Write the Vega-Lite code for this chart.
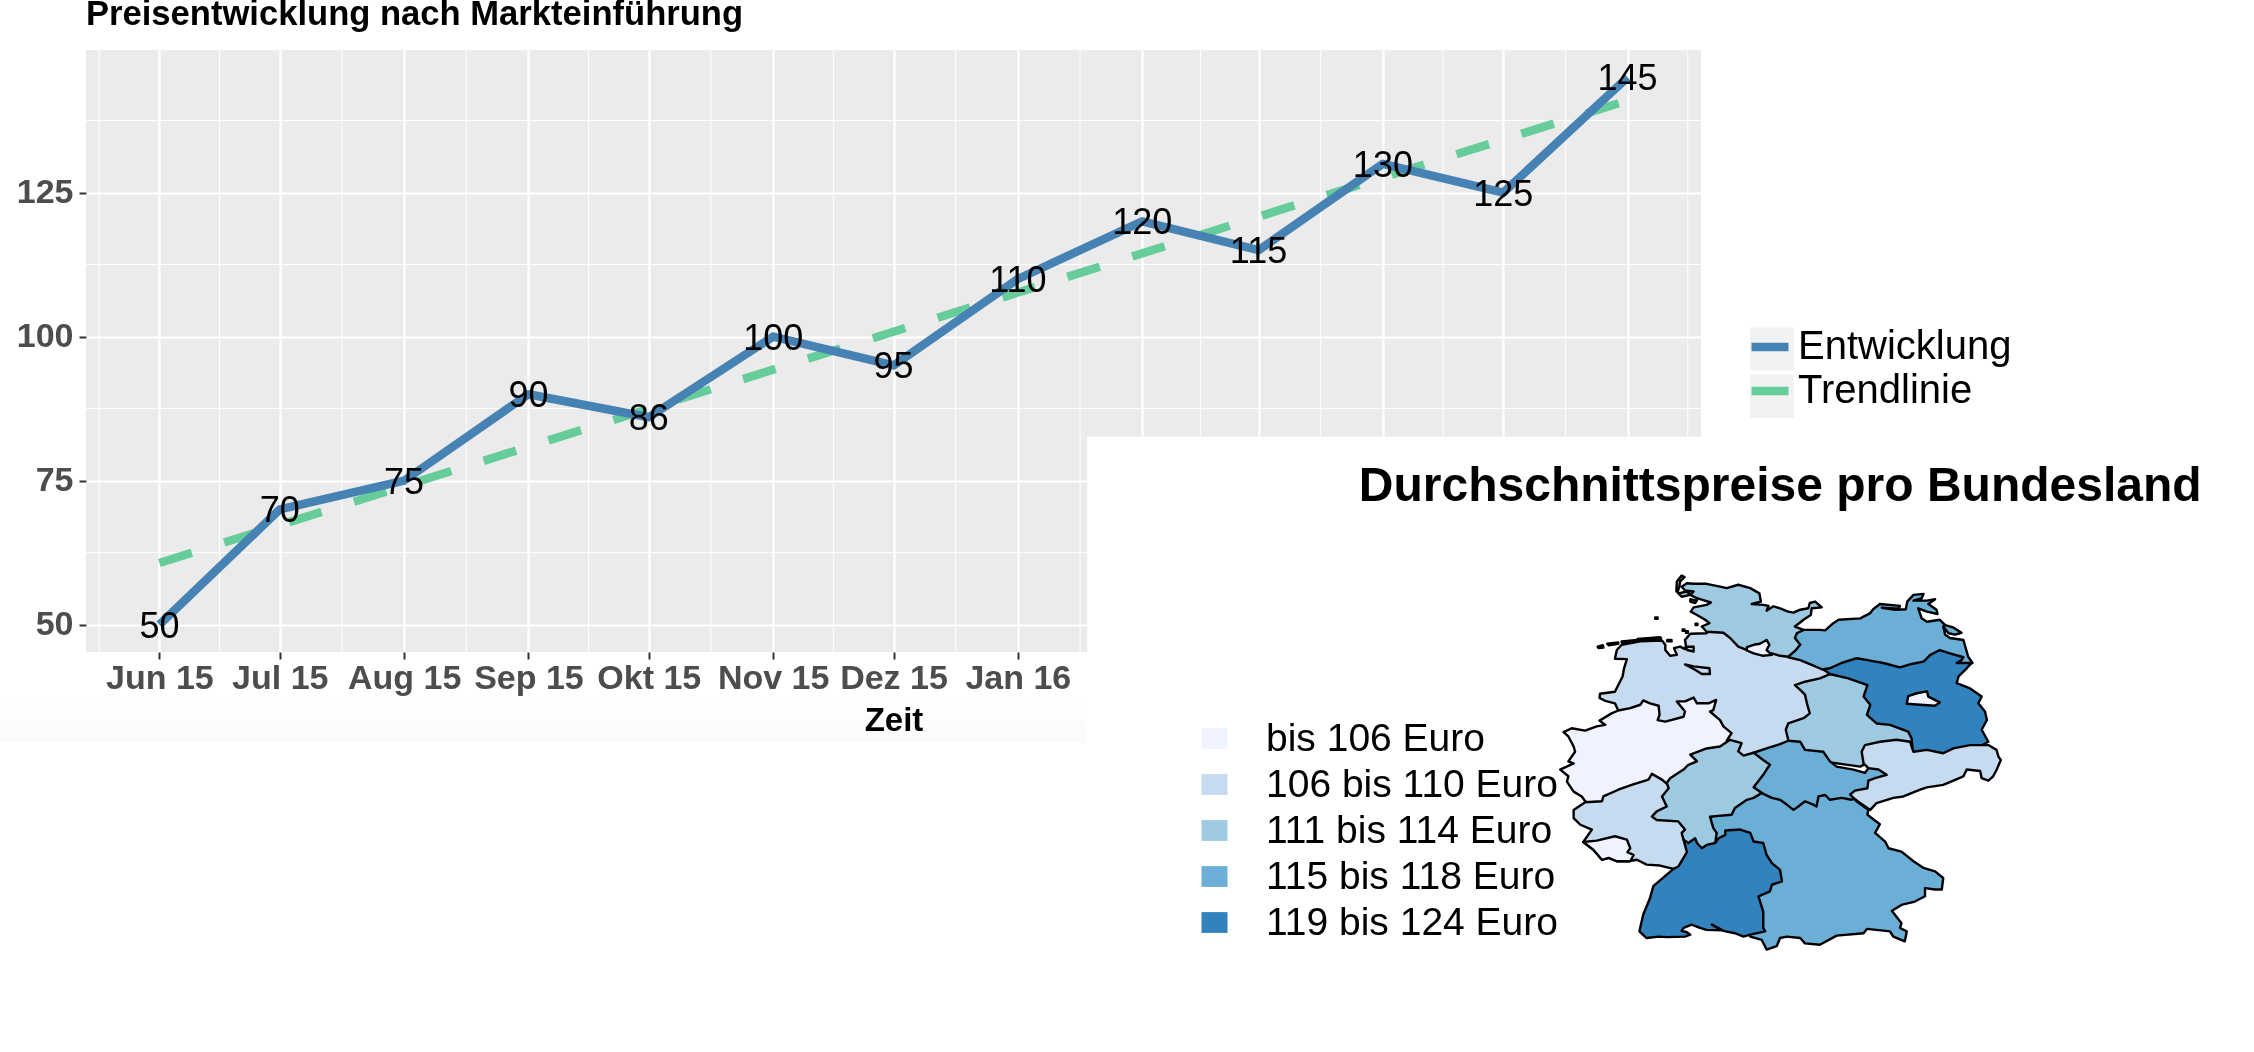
{
"$schema":"https://vega.github.io/schema/vega-lite/v6.json",
"autosize":{"type":"none"},
"width":1615,"height":602,
"padding":{"left":86,"top":50,"right":553,"bottom":400},
"background":"white",
"view":{"fill":"#EBEBEB","stroke":null},
"title":{"text":"Preisentwicklung nach Markteinführung","anchor":"start","frame":"group","font":"Liberation Sans","fontSize":34.6,"fontWeight":"bold","color":"#000000","offset":-10,"baseline":"alphabetic"},
"config":{"font":"Liberation Sans"},
"datasets":{
"verlauf":[
{"monat":"2015-06-01","preis":50,"serie":"Entwicklung"},
{"monat":"2015-07-01","preis":70,"serie":"Entwicklung"},
{"monat":"2015-08-01","preis":75,"serie":"Entwicklung"},
{"monat":"2015-09-01","preis":90,"serie":"Entwicklung"},
{"monat":"2015-10-01","preis":86,"serie":"Entwicklung"},
{"monat":"2015-11-01","preis":100,"serie":"Entwicklung"},
{"monat":"2015-12-01","preis":95,"serie":"Entwicklung"},
{"monat":"2016-01-01","preis":110,"serie":"Entwicklung"},
{"monat":"2016-02-01","preis":120,"serie":"Entwicklung"},
{"monat":"2016-03-01","preis":115,"serie":"Entwicklung"},
{"monat":"2016-04-01","preis":130,"serie":"Entwicklung"},
{"monat":"2016-05-01","preis":125,"serie":"Entwicklung"},
{"monat":"2016-06-01","preis":145,"serie":"Entwicklung"}],
"trend":[
{"monat":"2015-06-01","preis":60.7,"serie":"Trendlinie"},
{"monat":"2016-06-01","preis":141,"serie":"Trendlinie"}],
"gitterX":[{"d":"2015-05-17"},{"d":"2015-06-16"},{"d":"2015-07-16T12:00:00Z"},{"d":"2015-08-16T12:00:00Z"},{"d":"2015-09-16"},{"d":"2015-10-16T12:00:00Z"},{"d":"2015-11-16"},{"d":"2015-12-16T12:00:00Z"},{"d":"2016-01-16T12:00:00Z"},{"d":"2016-02-15T12:00:00Z"},{"d":"2016-03-16T12:00:00Z"},{"d":"2016-04-16"},{"d":"2016-05-16T12:00:00Z"},{"d":"2016-06-16"}],
"gitterY":[{"w":62.5},{"w":87.5},{"w":112.5},{"w":137.5}]
},
"layer":[
{"data":{"name":"gitterX"},"mark":{"type":"rule","color":"white","strokeWidth":1},
 "encoding":{"x":{"field":"d","type":"temporal","title":"Zeit",
  "scale":{"type":"utc","domain":[{"year":2015,"month":5,"date":13,"hours":16,"minutes":48,"utc":true},{"year":2016,"month":6,"date":19,"hours":7,"minutes":12,"utc":true}],"nice":false},
  "axis":{"values":[{"year":2015,"month":6,"date":1,"utc":true},{"year":2015,"month":7,"date":1,"utc":true},{"year":2015,"month":8,"date":1,"utc":true},{"year":2015,"month":9,"date":1,"utc":true},{"year":2015,"month":10,"date":1,"utc":true},{"year":2015,"month":11,"date":1,"utc":true},{"year":2015,"month":12,"date":1,"utc":true},{"year":2016,"month":1,"date":1,"utc":true},{"year":2016,"month":2,"date":1,"utc":true},{"year":2016,"month":3,"date":1,"utc":true},{"year":2016,"month":4,"date":1,"utc":true},{"year":2016,"month":5,"date":1,"utc":true},{"year":2016,"month":6,"date":1,"utc":true}],
   "format":"%b %y","labelExpr":"replace(replace(replace(replace(datum.label,'Oct','Okt'),'Dec','Dez'),'Mar','Mrz'),'May','Mai')",
   "grid":true,"gridColor":"white","gridWidth":2.2,"domain":false,"tickColor":"#333333","tickWidth":2,"tickSize":7,"labelFont":"Liberation Sans","labelFontWeight":"bold","labelFontSize":34,"labelColor":"#4D4D4D","labelPadding":2,"labelOverlap":false,"labelFlush":false,"titleFont":"Liberation Sans","titleFontWeight":"bold","titleFontSize":33,"titleColor":"#000000","titlePadding":9}}}},
{"data":{"name":"gitterY"},"mark":{"type":"rule","color":"white","strokeWidth":1},
 "encoding":{"y":{"field":"w","type":"quantitative","title":null,
  "scale":{"domain":[45.25,149.75],"nice":false,"zero":false},
  "axis":{"values":[50,75,100,125],"grid":true,"gridColor":"white","gridWidth":2.2,"domain":false,"tickColor":"#333333","tickWidth":2,"tickSize":7,"labelFont":"Liberation Sans","labelFontWeight":"bold","labelFontSize":34,"labelColor":"#4D4D4D","labelPadding":6}}}},
{"data":{"name":"trend"},"mark":{"type":"line","strokeWidth":8.5,"strokeDash":[34,34],"strokeCap":"butt"},
 "encoding":{"x":{"field":"monat","type":"temporal"},"y":{"field":"preis","type":"quantitative"},
  "stroke":{"field":"serie","type":"nominal","scale":{"domain":["Entwicklung","Trendlinie"],"range":["#4682B4","#66CC99"]},
   "legend":{"orient":"none","legendX":1661,"legendY":274,"title":null,"zindex":1,"symbolType":"stroke","symbolSize":1369,"symbolStrokeWidth":8.5,"symbolDash":[1,0],"labelFont":"Liberation Sans","labelFontSize":40,"labelColor":"#000000","labelOffset":5,"labelLimit":400,"rowPadding":1}}}},
{"data":{"name":"verlauf"},"mark":{"type":"line","strokeWidth":8.5,"strokeJoin":"round"},
 "encoding":{"x":{"field":"monat","type":"temporal"},"y":{"field":"preis","type":"quantitative"},
  "stroke":{"field":"serie","type":"nominal","scale":{"domain":["Entwicklung","Trendlinie"],"range":["#4682B4","#66CC99"]},
   "legend":{"orient":"none","legendX":1661,"legendY":274,"title":null,"zindex":1,"symbolType":"stroke","symbolSize":1369,"symbolStrokeWidth":8.5,"symbolDash":[1,0],"labelFont":"Liberation Sans","labelFontSize":40,"labelColor":"#000000","labelOffset":5,"labelLimit":400,"rowPadding":1}}}},
{"data":{"name":"verlauf"},"mark":{"type":"text","font":"Liberation Sans","fontSize":36,"color":"#000000","baseline":"middle","align":"center","dy":2},
 "encoding":{"x":{"field":"monat","type":"temporal"},"y":{"field":"preis","type":"quantitative"},"text":{"field":"preis","type":"quantitative"}}},
{"data":{"values":[{"flaeche":"Rand"}]},"mark":{"type":"rect","blend":"multiply","color":{"gradient":"linear","x1":0,"y1":0,"x2":0,"y2":1,"stops":[{"offset":0,"color":"#FFFFFF"},{"offset":1,"color":"#FAFAFA"}]}},
 "encoding":{"x":{"datum":{"year":2015,"month":4,"date":22,"utc":true},"type":"temporal"},"x2":{"datum":{"year":2016,"month":1,"date":18,"utc":true}},"y":{"datum":36.8,"type":"quantitative"},"y2":{"datum":29.5}}},
{"data":{"values":[{"flaeche":"Einsatz"}]},"mark":{"type":"rect","color":"white"},
 "encoding":{"x":{"datum":{"year":2016,"month":1,"date":18,"hours":7,"utc":true},"type":"temporal"},"x2":{"datum":{"year":2016,"month":8,"date":1,"utc":true}},"y":{"datum":82.6,"type":"quantitative"},"y2":{"datum":-25}}},
{"data":{"values":[{"flaeche":"Schluessel1"}]},"mark":{"type":"rect","color":"#F2F2F2"},
 "encoding":{"x":{"datum":{"year":2016,"month":7,"date":1,"hours":14,"utc":true},"type":"temporal"},"x2":{"datum":{"year":2016,"month":7,"date":12,"hours":10,"utc":true}},"y":{"datum":101.56,"type":"quantitative"},"y2":{"datum":94.1}}},
{"data":{"values":[{"flaeche":"Schluessel2"}]},"mark":{"type":"rect","color":"#F2F2F2"},
 "encoding":{"x":{"datum":{"year":2016,"month":7,"date":1,"hours":14,"utc":true},"type":"temporal"},"x2":{"datum":{"year":2016,"month":7,"date":12,"hours":10,"utc":true}},"y":{"datum":93.4,"type":"quantitative"},"y2":{"datum":85.85}}},
{"data":{"values":[{"titel":"Durchschnittspreise pro Bundesland"}]},"mark":{"type":"text","font":"Liberation Sans","fontWeight":"bold","fontSize":48,"color":"#000000","align":"left","baseline":"alphabetic"},
 "encoding":{"x":{"datum":{"year":2016,"month":3,"date":26,"utc":true},"type":"temporal"},"y":{"datum":71.5,"type":"quantitative"},"text":{"field":"titel","type":"nominal"}}},
{"data":{"values":[
{"type":"Feature","properties":{"land":"Bayern","klasse":"115 bis 118 Euro"},"geometry":{"type":"Polygon","coordinates":[[[11.17,50.71],[11.90,50.51],[12.15,50.31],[12.32,50.19],[12.30,50.09],[12.56,49.89],[12.46,49.71],[12.67,49.53],[12.74,49.39],[13.01,49.32],[13.26,49.12],[13.47,48.98],[13.71,48.91],[13.88,48.77],[13.85,48.53],[13.71,48.53],[13.50,48.56],[13.50,48.39],[13.29,48.28],[13.01,48.21],[12.81,48.09],[13.01,47.83],[12.98,47.73],[13.12,47.66],[13.08,47.45],[12.84,47.55],[12.77,47.66],[12.29,47.71],[12.22,47.62],[11.66,47.57],[11.31,47.38],[11.00,47.41],[10.90,47.52],[10.62,47.55],[10.48,47.52],[10.41,47.35],[10.20,47.28],[10.10,47.48],[9.86,47.55],[9.58,48.35],[9.16,49.32],[8.95,49.95],[9.44,50.37],[10.20,50.64],[11.17,50.71]]]}},
{"type":"Feature","properties":{"land":"Niedersachsen","klasse":"106 bis 110 Euro"},"geometry":{"type":"MultiPolygon","coordinates":[[[[7.11,52.26],[7.04,52.41],[6.84,52.46],[6.72,52.52],[6.73,52.61],[7.04,52.65],[7.11,52.79],[7.20,52.97],[7.23,53.14],[7.29,53.33],[7.04,53.34],[7.08,53.52],[7.18,53.63],[7.57,53.70],[8.02,53.72],[8.09,53.63],[8.09,53.52],[8.19,53.40],[8.33,53.42],[8.27,53.56],[8.40,53.59],[8.50,53.54],[8.52,53.61],[8.50,53.73],[8.61,53.86],[8.95,53.87],[9.16,54.15],[10.13,54.01],[10.55,53.66],[10.90,53.59],[11.38,53.25],[11.66,53.14],[11.66,52.90],[11.17,52.06],[10.83,51.79],[10.83,51.51],[10.27,51.23],[9.58,51.23],[8.81,51.72],[7.77,51.93],[7.11,52.26]]],[[[6.68,53.59],[6.79,53.62],[6.80,53.57],[6.70,53.56],[6.68,53.59]]],[[[6.88,53.65],[7.11,53.68],[7.11,53.65],[6.91,53.62],[6.88,53.65]]],[[[7.18,53.70],[7.50,53.73],[7.50,53.71],[7.18,53.68],[7.18,53.70]]],[[[7.51,53.75],[7.98,53.79],[8.00,53.77],[7.53,53.72],[7.51,53.75]]],[[[8.13,53.73],[8.22,53.73],[8.22,53.70],[8.13,53.70],[8.13,53.73]]]]}},
{"type":"Feature","properties":{"land":"Bremen","klasse":"106 bis 110 Euro"},"geometry":{"type":"MultiPolygon","coordinates":[[[[8.50,53.22],[8.68,53.18],[9.01,53.14],[9.02,53.02],[8.85,53.02],[8.71,53.11],[8.50,53.22]]],[[[8.52,53.59],[8.68,53.59],[8.68,53.49],[8.54,53.52],[8.52,53.59]]]]}},
{"type":"Feature","properties":{"land":"Mecklenburg-Vorpommern","klasse":"115 bis 118 Euro"},"geometry":{"type":"Polygon","coordinates":[[[10.97,53.94],[11.31,53.94],[11.42,53.93],[11.59,54.08],[11.70,54.15],[12.15,54.18],[12.36,54.29],[12.42,54.37],[12.56,54.48],[12.98,54.44],[12.95,54.38],[12.60,54.40],[12.88,54.36],[13.10,54.37],[13.13,54.53],[13.26,54.67],[13.47,54.69],[13.43,54.60],[13.26,54.55],[13.54,54.55],[13.71,54.58],[13.57,54.48],[13.74,54.36],[13.76,54.27],[13.54,54.32],[13.36,54.39],[13.43,54.18],[13.54,54.11],[13.81,54.15],[13.92,54.04],[14.09,53.99],[14.26,53.88],[14.13,53.84],[13.99,53.87],[13.88,54.01],[13.92,53.84],[14.02,53.77],[14.30,53.73],[14.40,53.38],[14.49,53.25],[13.95,53.11],[12.56,52.97],[11.66,53.04],[11.35,53.12],[11.14,53.21],[10.90,53.31],[10.65,53.37],[10.55,53.80],[10.97,53.94]]]}},
{"type":"Feature","properties":{"land":"Sachsen-Anhalt","klasse":"111 bis 114 Euro"},"geometry":{"type":"Polygon","coordinates":[[[11.52,53.02],[12.56,52.83],[13.26,51.93],[13.33,51.51],[12.56,51.30],[12.15,51.09],[11.17,51.23],[10.69,51.51],[10.65,51.65],[10.60,51.86],[10.65,51.99],[10.97,52.10],[11.10,52.20],[11.04,52.41],[11.00,52.59],[10.90,52.69],[10.79,52.79],[11.00,52.86],[11.31,52.93],[11.52,53.02]]]}},
{"type":"Feature","properties":{"land":"Brandenburg","klasse":"119 bis 124 Euro"},"geometry":{"type":"Polygon","coordinates":[[[11.38,53.12],[11.52,53.14],[11.76,53.25],[12.08,53.35],[12.36,53.30],[12.63,53.25],[12.98,53.16],[13.22,53.23],[13.47,53.28],[13.61,53.42],[13.81,53.52],[14.02,53.45],[14.30,53.37],[14.26,53.31],[14.16,53.25],[14.47,53.25],[14.37,53.14],[14.20,52.97],[14.16,52.83],[14.44,52.72],[14.68,52.55],[14.61,52.41],[14.75,52.24],[14.79,52.06],[14.68,51.86],[14.82,51.61],[14.44,51.40],[13.88,51.23],[13.26,51.23],[13.22,51.68],[13.15,51.82],[12.77,51.96],[12.49,51.99],[12.29,52.17],[12.36,52.38],[12.22,52.55],[12.30,52.79],[11.90,52.93],[11.52,53.02],[11.38,53.12]]]}},
{"type":"Feature","properties":{"land":"Thüringen","klasse":"115 bis 118 Euro"},"geometry":{"type":"Polygon","coordinates":[[[9.93,51.38],[10.20,51.47],[10.48,51.56],[10.65,51.63],[10.90,51.61],[11.00,51.44],[11.38,51.40],[11.52,51.20],[11.66,51.09],[12.01,51.03],[12.25,50.96],[12.32,51.06],[12.56,51.09],[12.84,50.99],[12.84,50.71],[12.49,50.50],[12.08,50.47],[11.97,50.40],[11.76,50.44],[11.52,50.40],[11.42,50.50],[11.28,50.47],[11.24,50.26],[11.17,50.30],[11.00,50.37],[10.86,50.26],[10.76,50.19],[10.62,50.30],[10.48,50.40],[10.31,50.44],[10.10,50.54],[9.86,50.71],[9.86,51.16],[9.93,51.38]]]}},
{"type":"Feature","properties":{"land":"Nordrhein-Westfalen","klasse":"bis 106 Euro"},"geometry":{"type":"Polygon","coordinates":[[[5.97,51.81],[6.14,51.89],[6.42,51.84],[6.66,51.93],[6.84,51.96],[6.72,52.05],[6.97,52.20],[7.11,52.26],[7.36,52.31],[7.57,52.38],[7.63,52.47],[7.77,52.41],[7.95,52.36],[7.97,52.17],[7.93,52.06],[8.09,52.03],[8.47,52.13],[8.50,52.24],[8.33,52.45],[8.50,52.45],[8.68,52.53],[8.75,52.41],[8.99,52.41],[9.15,52.48],[9.09,52.27],[9.02,52.24],[9.23,52.06],[9.30,51.93],[9.47,51.79],[9.37,51.63],[9.58,51.23],[8.81,50.88],[7.77,50.50],[6.73,50.23],[6.42,50.37],[6.35,50.47],[6.18,50.57],[6.04,50.78],[6.07,50.89],[5.90,51.03],[6.18,51.16],[6.07,51.20],[6.21,51.40],[6.18,51.51],[6.07,51.72],[5.97,51.81]]]}},
{"type":"Feature","properties":{"land":"Rheinland-Pfalz","klasse":"106 bis 110 Euro"},"geometry":{"type":"Polygon","coordinates":[[[6.42,50.35],[6.77,50.37],[6.80,50.47],[7.11,50.61],[7.39,50.71],[7.74,50.82],[7.81,50.94],[8.02,50.82],[8.16,50.70],[8.47,50.44],[8.68,49.81],[8.61,49.46],[8.61,49.05],[8.36,48.84],[8.26,48.96],[7.98,49.03],[7.70,49.05],[7.50,49.15],[7.32,49.12],[7.08,49.12],[6.91,49.19],[6.77,49.15],[6.59,49.36],[6.38,49.52],[6.56,49.78],[6.32,49.88],[6.18,50.02],[6.18,50.19],[6.42,50.35]]]}},
{"type":"Feature","properties":{"land":"Saarland","klasse":"bis 106 Euro"},"geometry":{"type":"Polygon","coordinates":[[[6.38,49.52],[6.66,49.55],[7.04,49.64],[7.29,49.57],[7.36,49.39],[7.30,49.31],[7.43,49.25],[7.36,49.12],[7.08,49.12],[6.91,49.19],[6.77,49.15],[6.59,49.36],[6.38,49.52]]]}},
{"type":"Feature","properties":{"land":"Sachsen","klasse":"106 bis 110 Euro"},"geometry":{"type":"Polygon","coordinates":[[[12.25,51.54],[12.56,51.61],[12.91,51.65],[13.19,51.61],[13.22,51.51],[13.26,51.40],[13.54,51.44],[13.88,51.37],[14.09,51.47],[14.44,51.54],[14.82,51.54],[14.99,51.44],[15.03,51.30],[15.08,51.23],[14.99,51.02],[14.92,50.89],[14.82,50.80],[14.68,50.85],[14.65,51.00],[14.37,51.03],[14.30,50.89],[13.88,50.71],[13.54,50.66],[13.40,50.61],[13.05,50.47],[12.84,50.44],[12.49,50.33],[12.36,50.19],[12.18,50.31],[12.01,50.44],[11.94,50.51],[12.04,50.59],[12.30,50.64],[12.32,50.80],[12.46,50.85],[12.70,50.92],[12.53,51.03],[12.32,51.06],[12.22,51.16],[12.18,51.40],[12.25,51.54]]]}},
{"type":"Feature","properties":{"land":"Hessen","klasse":"111 bis 114 Euro"},"geometry":{"type":"Polygon","coordinates":[[[8.61,51.34],[8.95,51.47],[9.23,51.51],[9.44,51.65],[9.68,51.58],[9.61,51.41],[9.72,51.32],[9.93,51.38],[10.13,51.23],[10.27,51.13],[10.20,51.03],[10.13,50.92],[9.93,50.66],[10.10,50.54],[9.93,50.44],[9.79,50.40],[9.54,50.23],[9.47,50.09],[9.02,50.05],[9.09,49.81],[9.16,49.71],[9.13,49.50],[8.95,49.32],[8.61,49.32],[8.47,49.57],[8.43,49.71],[8.50,49.78],[8.36,49.95],[7.91,49.98],[7.81,50.05],[7.91,50.16],[8.12,50.26],[8.02,50.47],[8.16,50.64],[8.12,50.75],[8.19,50.85],[8.47,51.03],[8.57,51.13],[8.75,51.20],[8.61,51.34]]]}},
{"type":"Feature","properties":{"land":"Baden-Württemberg","klasse":"119 bis 124 Euro"},"geometry":{"type":"Polygon","coordinates":[[[8.47,49.57],[8.57,49.50],[8.71,49.60],[8.75,49.50],[8.85,49.39],[8.95,49.46],[9.13,49.50],[9.20,49.60],[9.34,49.67],[9.34,49.76],[9.65,49.78],[9.86,49.71],[9.93,49.53],[10.13,49.50],[10.20,49.25],[10.31,49.08],[10.48,48.94],[10.52,48.70],[10.31,48.63],[10.27,48.49],[10.03,48.39],[10.13,48.07],[10.13,47.73],[10.17,47.66],[9.86,47.59],[9.72,47.55],[9.54,47.62],[9.30,47.67],[9.23,47.71],[9.06,47.80],[9.27,47.68],[8.95,47.69],[8.81,47.73],[8.64,47.80],[8.47,47.73],[8.43,47.67],[8.54,47.64],[8.61,47.59],[8.50,47.55],[8.12,47.54],[7.95,47.55],[7.70,47.52],[7.55,47.66],[7.63,48.01],[7.77,48.35],[7.84,48.60],[8.26,48.96],[8.36,49.01],[8.54,49.31],[8.47,49.57]]]}},
{"type":"Feature","properties":{"land":"Schleswig-Holstein","klasse":"111 bis 114 Euro"},"geometry":{"type":"MultiPolygon","coordinates":[[[[8.68,54.90],[8.95,54.90],[9.23,54.84],[9.37,54.81],[9.61,54.88],[9.86,54.81],[10.05,54.70],[10.08,54.53],[9.89,54.48],[10.13,54.46],[10.24,54.44],[10.20,54.34],[10.34,54.43],[10.48,54.39],[10.65,54.32],[10.76,54.30],[10.90,54.36],[11.07,54.39],[11.10,54.50],[11.21,54.53],[11.35,54.41],[11.14,54.39],[11.12,54.25],[10.97,54.15],[10.79,54.01],[10.97,53.94],[10.83,53.87],[10.79,53.77],[10.90,53.63],[10.81,53.52],[10.65,53.38],[10.48,53.40],[10.31,53.45],[9.86,53.49],[9.61,53.59],[9.44,53.77],[9.30,53.88],[8.95,53.90],[8.85,54.01],[9.01,54.08],[8.92,54.15],[8.75,54.25],[8.62,54.32],[8.68,54.41],[8.95,54.46],[9.04,54.51],[8.88,54.56],[8.75,54.60],[8.61,54.67],[8.68,54.74],[8.50,54.76],[8.43,54.84],[8.54,54.91],[8.68,54.90]]],[[[8.32,54.74],[8.33,54.95],[8.43,55.07],[8.49,55.04],[8.40,54.95],[8.38,54.84],[8.35,54.74],[8.32,54.74]]],[[[8.36,54.70],[8.54,54.74],[8.61,54.67],[8.43,54.63],[8.36,54.70]]],[[[8.61,54.58],[8.75,54.55],[8.71,54.50],[8.61,54.53],[8.61,54.58]]],[[[7.88,54.20],[7.93,54.20],[7.93,54.17],[7.88,54.17],[7.88,54.20]]],[[[8.72,54.07],[8.76,54.07],[8.76,54.04],[8.72,54.04],[8.72,54.07]]],[[[8.45,53.95],[8.49,53.95],[8.49,53.92],[8.45,53.92],[8.45,53.95]]],[[[8.52,53.91],[8.56,53.91],[8.56,53.88],[8.52,53.88],[8.52,53.91]]]]}},
{"type":"Feature","properties":{"land":"Hamburg","klasse":"bis 106 Euro"},"geometry":{"type":"Polygon","coordinates":[[[9.79,53.58],[9.93,53.63],[10.06,53.65],[10.20,53.73],[10.26,53.63],[10.20,53.52],[10.31,53.42],[10.13,53.40],[9.93,53.45],[9.79,53.51],[9.79,53.58]]]}},
{"type":"Feature","properties":{"land":"Berlin","klasse":"bis 106 Euro"},"geometry":{"type":"Polygon","coordinates":[[[13.15,52.56],[13.33,52.62],[13.54,52.66],[13.57,52.55],[13.81,52.43],[13.71,52.36],[13.40,52.38],[13.12,52.40],[13.15,52.56]]]}}
]},
"projection":{"type":"identity","reflectY":true,"scale":48,"translate":[1191,3169]},
"mark":{"type":"geoshape","clip":false,"stroke":"#000000","strokeWidth":2.4,"strokeJoin":"round"},
"encoding":{"fill":{"field":"properties.klasse","type":"nominal","scale":{"domain":["bis 106 Euro","106 bis 110 Euro","111 bis 114 Euro","115 bis 118 Euro","119 bis 124 Euro"],"range":["#EFF3FF","#C6DBEF","#9ECAE1","#6BAED6","#3182BD"]},
 "legend":{"orient":"none","legendX":1109,"legendY":669,"title":null,"zindex":1,"symbolType":"M-1,-0.8H1V0.8H-1Z","symbolSize":676,"symbolStrokeWidth":0,"symbolOpacity":1,"labelFont":"Liberation Sans","labelFontSize":39,"labelColor":"#000000","labelOffset":32,"labelLimit":500,"rowPadding":6}}}}
]
}
